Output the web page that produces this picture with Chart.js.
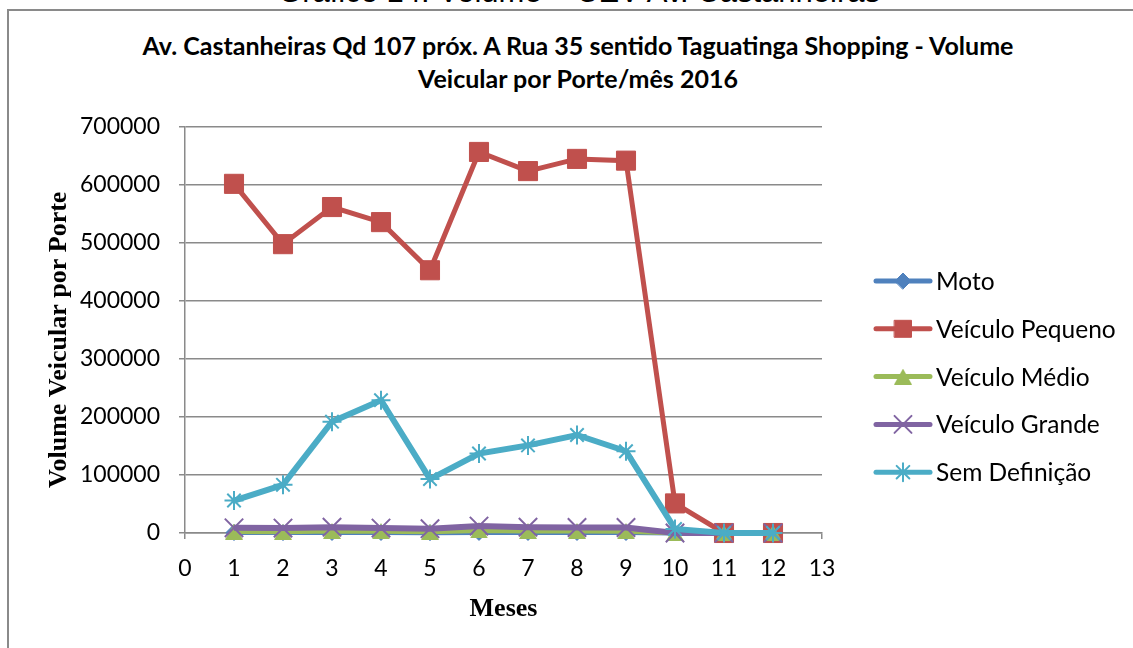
<!DOCTYPE html>
<html>
<head>
<meta charset="utf-8">
<title>Volume Veicular por Porte/mês 2016</title>
<script src="https://cdn.jsdelivr.net/npm/chart.js@4/dist/chart.umd.min.js"></script>
<style>
	html, body { margin: 0; padding: 0; background: #fff; overflow: hidden; }
	#page { position: relative; width: 1133px; height: 648px; overflow: hidden; }
	#caption {
		position: absolute; left: 0; width: 1158px; top: -24px;
		font: 31px/31px "Liberation Sans", Arial, sans-serif; text-align: center; color: #000;
	}
	#frame {
		position: absolute; left: 7px; top: 9px; width: 1200px; height: 700px;
		border-left: 2px solid #8a8a8a; border-top: 2px solid #8a8a8a;
	}
	#chartTitle {
		position: absolute; left: 0; width: 1156px; top: 29px;
		font: bold 25px/33px Lato, sans-serif; text-align: center; color: #000;
	}
	#canvasVolume { position: absolute; left: 0; top: 0; }
</style>
</head>
<body>
<div id="page">
	<div id="caption">Gráfico 14: Volume – CEV Av. Castanheiras</div>
	<div id="frame"></div>
	<div id="chartTitle">Av. Castanheiras Qd 107 próx. A Rua 35 sentido Taguatinga Shopping - Volume<br>Veicular por Porte/mês 2016</div>
	<canvas id="canvasVolume" width="1133" height="648"></canvas>
</div>
<script>
/***********************************************************************************************
 * dados - volume por porte / mês 2016
 ***********************************************************************************************/
var meses = [1, 2, 3, 4, 5, 6, 7, 8, 9, 10, 11, 12];
var moto = [800, 700, 900, 900, 600, 1000, 900, 900, 800, 0, 0, 0];
var veiculoPequeno = [602000, 498000, 562000, 536000, 453000, 657000, 624000, 645000, 642000, 51000, 0, 0];
var veiculoMedio = [2500, 2000, 3500, 3000, 2000, 4500, 3500, 3500, 3000, 0, 0, 0];
var veiculoGrande = [9000, 8500, 10000, 8500, 7500, 12000, 10000, 9500, 9500, 0, 0, 0];
var semDefinicao = [56000, 83000, 192000, 229000, 93000, 137000, 151000, 169000, 141000, 7000, 0, 0];
var seriesNomes = ['Moto', 'Veículo Pequeno', 'Veículo Médio', 'Veículo Grande', 'Sem Definição'];
var yTicks = [0, 100000, 200000, 300000, 400000, 500000, 600000, 700000];

function pontos(valores) {
	return meses.map(function(m, i) { return { x: m, y: valores[i] }; });
}

// triângulo centrado pela caixa (como o marcador do Excel)
function triangulo(w, h, cor) {
	var c = document.createElement('canvas');
	c.width = w;
	c.height = h;
	var g = c.getContext('2d');
	g.fillStyle = cor;
	g.beginPath();
	g.moveTo(w / 2, 0);
	g.lineTo(w, h);
	g.lineTo(0, h);
	g.closePath();
	g.fill();
	return c;
}

/***********************************************************************************************
 * legenda (linha + marcador, como no Excel)
 ***********************************************************************************************/
var legendaPlugin = {
	id: 'legendaLinha',
	afterDraw: function(chart) {
		var ctx = chart.ctx;
		var x0 = 876, x1 = 930, y0 = 281, passo = 47.8;
		var sets = chart.data.datasets;
		ctx.save();
		for (var i = 0; i < sets.length; i++) {
			var ds = sets[i];
			var y = y0 + i * passo;
			ctx.strokeStyle = ds.borderColor;
			ctx.lineWidth = 5;
			ctx.lineCap = 'round';
			ctx.beginPath();
			ctx.moveTo(x0, y);
			ctx.lineTo(x1, y);
			ctx.stroke();
			ctx.fillStyle = ds.borderColor;
			ctx.strokeStyle = ds.borderColor;
			ctx.lineWidth = ds.pointBorderWidth;
			Chart.helpers.drawPoint(ctx, {
				pointStyle: ds.pointStyle,
				radius: ds.legendRadius,
				rotation: 0,
				borderWidth: ds.pointBorderWidth
			}, (x0 + x1) / 2, y);
			ctx.fillStyle = '#000';
			ctx.font = '24.5px Lato';
			ctx.textBaseline = 'middle';
			ctx.textAlign = 'left';
			ctx.fillText(ds.label, 936, y + 1);
		}
		ctx.restore();
	}
};

/***********************************************************************************************
 * gráfico
 ***********************************************************************************************/
Chart.defaults.font.family = 'Lato';
Chart.defaults.color = '#000';

var config = new Chart(document.getElementById('canvasVolume'), {
	type: 'scatter',
	data: {
		datasets: [{
			label: seriesNomes[0],
			data: pontos(moto),
			borderColor: '#4F81BD',
			backgroundColor: '#4F81BD',
			borderWidth: 5,
			pointStyle: 'rectRot',
			pointRadius: 8,
			pointBorderWidth: 1,
			legendRadius: 8,
			clip: false,
			order: 4
		}, {
			label: seriesNomes[1],
			data: pontos(veiculoPequeno),
			borderColor: '#C0504D',
			backgroundColor: '#C0504D',
			borderWidth: 5,
			pointStyle: 'rect',
			pointRadius: 13.5,
			pointBorderWidth: 1,
			legendRadius: 12,
			clip: false,
			order: 3
		}, {
			label: seriesNomes[2],
			data: pontos(veiculoMedio),
			borderColor: '#9BBB59',
			backgroundColor: '#9BBB59',
			borderWidth: 5,
			pointStyle: triangulo(18, 16, '#9BBB59'),
			pointRadius: 9,
			pointBorderWidth: 1,
			legendRadius: 9,
			clip: false,
			order: 2
		}, {
			label: seriesNomes[3],
			data: pontos(veiculoGrande),
			borderColor: '#8064A2',
			backgroundColor: '#8064A2',
			borderWidth: 6,
			pointStyle: 'crossRot',
			pointRadius: 13,
			pointBorderWidth: 2,
			legendRadius: 12,
			clip: false,
			order: 1
		}, {
			label: seriesNomes[4],
			data: pontos(semDefinicao),
			borderColor: '#4BACC6',
			backgroundColor: '#4BACC6',
			borderWidth: 6,
			pointStyle: 'star',
			pointRadius: 9.5,
			pointBorderWidth: 2,
			legendRadius: 9,
			clip: false,
			order: 0
		}]
	},
	options: {
		responsive: false,
		animation: false,
		showLine: true,
		layout: {
			padding: { left: 10, right: 311, top: 127, bottom: 0 }
		},
		plugins: {
			legend: { display: false },
			tooltip: { enabled: false }
		},
		scales: {
			x: {
				type: 'linear',
				min: 0,
				max: 13,
				afterFit: function(scale) { scale.height = 115; },
				ticks: {
					stepSize: 1,
					padding: 16,
					font: { size: 23 }
				},
				grid: {
					drawOnChartArea: false,
					drawTicks: true,
					tickLength: 6,
					color: '#8a8a8a',
					lineWidth: 1.5
				},
				border: { color: '#8a8a8a', width: 1.5 },
				title: {
					display: true,
					text: 'Meses',
					font: { family: 'Liberation Serif', size: 26, weight: 'bold' },
					padding: { top: 0, bottom: 23 }
				}
			},
			y: {
				min: 0,
				max: 700000,
				afterFit: function(scale) { scale.width = 175; },
				afterBuildTicks: function(scale) {
					scale.ticks = yTicks.map(function(v) { return { value: v }; });
				},
				ticks: {
					padding: 19,
					font: { size: 23 },
					callback: function(v) { return String(v); }
				},
				grid: {
					tickLength: 6,
					color: '#8a8a8a',
					lineWidth: 1.5
				},
				border: { color: '#8a8a8a', width: 1.5 },
				title: {
					display: true,
					text: 'Volume Veicular por Porte\u00a0\u00a0\u00a0',
					font: { family: 'Liberation Serif', size: 26, weight: 'bold' },
					padding: { top: 34, bottom: 0 }
				}
			}
		}
	},
	plugins: [legendaPlugin]
});
</script>
</body>
</html>
